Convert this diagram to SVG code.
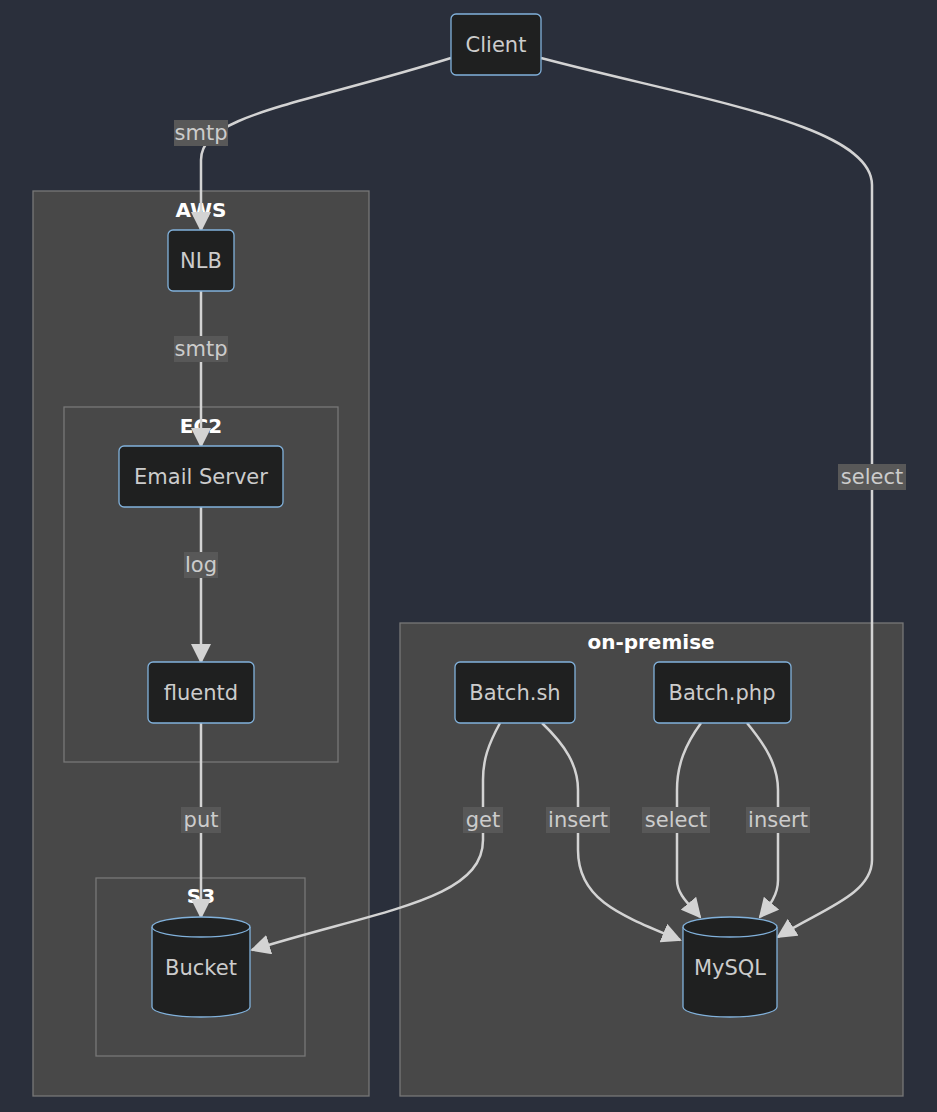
<svg xmlns="http://www.w3.org/2000/svg" width="937" height="1112" viewBox="0 0 937 1112">
<style>
.cl{fill:#484848;stroke:#777;stroke-width:1.3}
.ct{fill:#fff;font-family:"DejaVu Sans",sans-serif;font-size:20px;font-weight:bold;text-anchor:middle}
.n{fill:#1f2020;stroke:#81b1db;stroke-width:1.3}
.t{fill:#ccc;font-family:"DejaVu Sans",sans-serif;font-size:21px;text-anchor:middle;dominant-baseline:central}
.e{fill:none;stroke:#d3d3d3;stroke-width:2.5}
.lb{fill:#585858}
</style>
<defs>
<marker id="a" markerUnits="userSpaceOnUse" markerWidth="20" markerHeight="20" viewBox="0 0 20 20" refX="18" refY="10" orient="auto">
<path d="M0,0 L20,10 L0,20 z" fill="#d3d3d3"/>
</marker>
</defs>
<rect width="937" height="1112" fill="#2a2f3b"/>
<g id="AWS"><rect class="cl" x="33" y="191" width="336" height="905"/><text class="ct" x="201" y="217">AWS</text></g>
<g id="EC2"><rect class="cl" x="64" y="407" width="274" height="355"/><text class="ct" x="201" y="433">EC2</text></g>
<g id="S3"><rect class="cl" x="96" y="878" width="209" height="178"/><text class="ct" x="201" y="903">S3</text></g>
<g id="onpremise"><rect class="cl" x="400" y="623" width="503" height="473"/><text class="ct" x="651" y="649">on-premise</text></g>
<g id="edges">
<path class="e" marker-end="url(#a)" d="M451,58 C300,105 201,115 201,160 L201,230"/>
<path class="e" marker-end="url(#a)" d="M541,58 C700,100 872,125 872,185 L872,860 C872,895 820,910 778,937"/>
<path class="e" marker-end="url(#a)" d="M201,291 L201,446"/>
<path class="e" marker-end="url(#a)" d="M201,507 L201,662"/>
<path class="e" marker-end="url(#a)" d="M201,723 L201,917"/>
<path class="e" marker-end="url(#a)" d="M500,723 C488,745 483,760 483,780 L483,840 C483,900 380,910 252,950"/>
<path class="e" marker-end="url(#a)" d="M542,723 C565,745 578,765 578,790 L578,850 C578,900 620,915 680,940"/>
<path class="e" marker-end="url(#a)" d="M701,723 C685,745 677,765 677,790 L677,880 C677,895 690,905 700,917"/>
<path class="e" marker-end="url(#a)" d="M747,723 C765,745 778,765 778,790 L778,880 C778,895 770,905 760,917"/>
<rect class="lb" x="174" y="120" width="54" height="26"/><text class="t" x="201" y="133">smtp</text>
<rect class="lb" x="838" y="464" width="68" height="26"/><text class="t" x="872" y="477">select</text>
<rect class="lb" x="174" y="336" width="54" height="26"/><text class="t" x="201" y="349">smtp</text>
<rect class="lb" x="184" y="552" width="34" height="26"/><text class="t" x="201" y="565">log</text>
<rect class="lb" x="181" y="807" width="40" height="26"/><text class="t" x="201" y="820">put</text>
<rect class="lb" x="463" y="807" width="40" height="26"/><text class="t" x="483" y="820">get</text>
<rect class="lb" x="546" y="807" width="64" height="26"/><text class="t" x="578" y="820">insert</text>
<rect class="lb" x="642" y="807" width="68" height="26"/><text class="t" x="676" y="820">select</text>
<rect class="lb" x="746" y="807" width="64" height="26"/><text class="t" x="778" y="820">insert</text>
</g>
<g id="Client"><rect class="n" x="451" y="14" width="90" height="61" rx="5"/><text class="t" x="496" y="45">Client</text></g>
<g id="NLB"><rect class="n" x="168" y="230" width="66" height="61" rx="5"/><text class="t" x="201" y="261">NLB</text></g>
<g id="EmailServer"><rect class="n" x="119" y="446" width="164" height="61" rx="5"/><text class="t" x="201" y="477">Email Server</text></g>
<g id="fluentd"><rect class="n" x="148" y="662" width="106" height="61" rx="5"/><text class="t" x="201" y="693">fluentd</text></g>
<g id="BatchSh"><rect class="n" x="455" y="662" width="120" height="61" rx="5"/><text class="t" x="515" y="693">Batch.sh</text></g>
<g id="BatchPhp"><rect class="n" x="654" y="662" width="137" height="61" rx="5"/><text class="t" x="722" y="693">Batch.php</text></g>
<g id="Bucket"><path class="n" d="M152,927 A49,10 0 0 1 250,927 L250,1007 A49,10 0 0 1 152,1007 Z"/><path class="n" d="M152,927 A49,10 0 0 0 250,927" fill="none"/><text class="t" x="201" y="968">Bucket</text></g>
<g id="MySQL"><path class="n" d="M683,927 A47,10 0 0 1 777,927 L777,1007 A47,10 0 0 1 683,1007 Z"/><path class="n" d="M683,927 A47,10 0 0 0 777,927" fill="none"/><text class="t" x="730" y="968">MySQL</text></g>
</svg>
